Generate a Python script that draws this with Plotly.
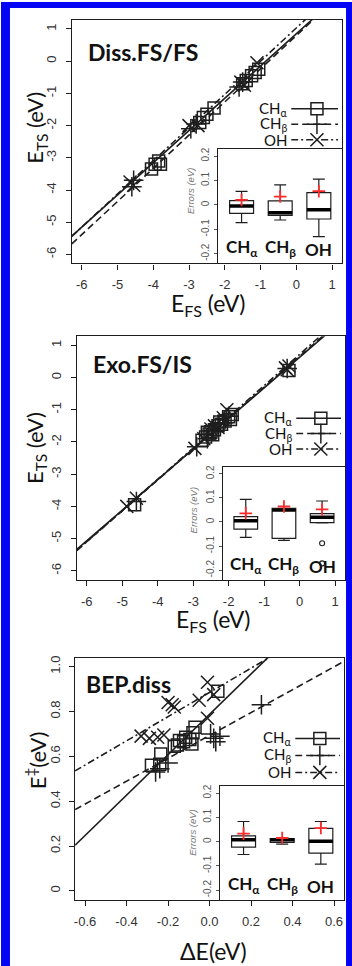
import plotly.graph_objects as go

W, H = 352, 966

# ---------------- data: panel 1, Diss.FS/FS ----------------
diss_cha_x = [-4.05, -3.95, -3.85, -3.8, -2.7, -2.6, -2.5, -2.3, -1.5, -1.4, -1.25, -1.15, -1.05]
diss_cha_y = [-3.35, -3.2, -3.1, -3.2, -1.9, -1.75, -1.65, -1.45, -0.7, -0.6, -0.45, -0.35, -0.25]
diss_chb_x = [-4.6, -4.55, -2.95, -2.8, -1.6, -1.5]
diss_chb_y = [-3.9, -3.7, -2.1, -1.95, -0.8, -0.65]
diss_oh_x = [-4.65, -4.55, -3.0, -2.75, -1.55, -1.45, -1.1]
diss_oh_y = [-3.75, -3.85, -2.0, -2.0, -0.65, -0.75, -0.05]
diss_slope = [1.0, 1.03, 1.03]
diss_icpt = [0.85, 0.795, 1.03]
diss_q1 = [-0.035, -0.043, -0.058]
diss_med = [-0.005, -0.032, -0.02]
diss_q3 = [0.017, 0.016, 0.05]
diss_lo = [-0.073, -0.062, -0.13]
diss_hi = [0.055, 0.082, 0.105]
diss_mean = [0.02, 0.034, 0.056]

# ---------------- data: panel 2, Exo.FS/IS ----------------
exo_cha_x = [-4.65, -2.75, -2.65, -2.6, -2.55, -2.5, -2.45, -2.4, -2.3, -2.25, -2.2, -2.1, -2.0, -1.95, -1.9, -0.3]
exo_cha_y = [-3.95, -1.95, -1.85, -1.7, -1.75, -1.68, -1.78, -1.62, -1.5, -1.38, -1.45, -1.35, -1.22, -1.3, -1.15, 0.22]
exo_chb_x = [-4.6, -2.9, -2.6, -2.45, -2.3, -2.15, -2.0, -0.35]
exo_chb_y = [-3.85, -2.15, -1.9, -1.65, -1.45, -1.4, -1.2, 0.28]
exo_oh_x = [-4.87, -4.6, -2.95, -2.7, -2.5, -2.4, -2.3, -2.15, -2.05, -0.4, -0.3, -0.35]
exo_oh_y = [-4.0, -3.75, -2.2, -1.9, -1.6, -1.5, -1.55, -1.25, -1.0, 0.3, 0.36, 0.24]
exo_slope = [0.95, 0.96, 0.97]
exo_icpt = [0.63, 0.66, 0.72]
exo_q1 = [-0.03, -0.068, -0.003]
exo_med = [0.005, 0.05, 0.02]
exo_q3 = [0.022, 0.057, 0.035]
exo_lo = [-0.064, -0.076, -0.004]
exo_hi = [0.094, 0.065, 0.087]
exo_mean = [0.036, 0.064, 0.052]
exo_out_y = [-0.088, -0.172]   # OH outliers

# ---------------- data: panel 3, BEP.diss ----------------
bep_cha_x = [-0.28, -0.24, -0.235, -0.17, -0.155, -0.145, -0.125, -0.115, -0.095, -0.085, -0.08, -0.07, 0.04]
bep_cha_y = [0.56, 0.565, 0.61, 0.645, 0.65, 0.67, 0.665, 0.685, 0.675, 0.655, 0.705, 0.73, 0.89]
bep_chb_x = [-0.26, -0.24, -0.2, 0.005, 0.02, 0.05, 0.03, 0.25]
bep_chb_y = [0.53, 0.545, 0.57, 0.70, 0.68, 0.69, 0.665, 0.83]
bep_oh_x = [-0.33, -0.29, -0.25, -0.22, -0.2, -0.18, -0.17, -0.05, -0.01, 0.02, -0.01]
bep_oh_y = [0.69, 0.68, 0.685, 0.695, 0.84, 0.83, 0.82, 0.85, 0.93, 0.875, 0.77]
bep_slope = [0.90, 0.51, 0.54]
bep_icpt = [0.787, 0.693, 0.885]
bep_q1 = [-0.023, -0.003, -0.047]
bep_med = [0.008, 0.008, 0.002]
bep_q3 = [0.024, 0.013, 0.055]
bep_lo = [-0.053, -0.01, -0.093]
bep_hi = [0.083, 0.017, 0.083]
bep_mean = [0.033, 0.015, 0.056]

groups = ["CH<sub>α</sub>", "CH<sub>β</sub>", "OH"]
group_pos = [1, 2, 3]
err_ticks = [-0.2, -0.1, 0, 0.1, 0.2]
err_labels = ["-0.2", "-0.1", "0", "0.1", "0.2"]
fs_ticks = [-6, -5, -4, -3, -2, -1, 0, 1]
de_ticks = [-0.6, -0.4, -0.2, 0.0, 0.2, 0.4, 0.6]
de_labels = ["-0.6", "-0.4", "-0.2", "0.0", "0.2", "0.4", "0.6"]
eb_ticks = [0, 0.2, 0.4, 0.6, 0.8, 1.0]
eb_labels = ["0", "0.2", "0.4", "0.6", "0.8", "1.0"]

# ---------------- style ----------------
TFONT = "Lato"
NFONT = "Liberation Sans"
INK = "#1e1e1e"
BLUE = "#0505f5"
symbols = ["square-open", "cross-thin-open", "x-thin-open"]
msizes = [12, 14, 13]
dashes = ["solid", "7px,4px", "7px,3px,2px,3px"]


def fx(x):
    return x / W


def fy(y):
    return 1 - y / H


def ak(kind, i):
    return kind + "axis" + ("" if i == 1 else str(i))


def ref(kind, i):
    return kind + ("" if i == 1 else str(i))


fig = go.Figure()
lay = {}
ann = []

panels = [
    dict(title="Diss.FS/FS", xt="E<sub>FS</sub> (eV)", yt="E<sub>TS</sub> (eV)",
         pts=[(diss_cha_x, diss_cha_y), (diss_chb_x, diss_chb_y), (diss_oh_x, diss_oh_y)],
         slope=diss_slope, icpt=diss_icpt,
         stats=(diss_q1, diss_med, diss_q3, diss_lo, diss_hi, diss_mean), out=None,
         xr=[-6.28, 1.28], yr=[-6.28, 1.28], xtv=fs_ticks, xtt=[str(v) for v in fs_ticks],
         ytv=fs_ticks, ytt=[str(v) for v in fs_ticks],
         box=(71, 342, 18, 262), inset=(218, 147.5), rows=(107, 122.5, 138), leg=(289, 291, 338),
         tpos=(85, 50), xtpos=(208, 303), ytpos=(35, 126), elab=(190, 189)),
    dict(title="Exo.FS/IS", xt="E<sub>FS</sub> (eV)", yt="E<sub>TS</sub> (eV)",
         pts=[(exo_cha_x, exo_cha_y), (exo_chb_x, exo_chb_y), (exo_oh_x, exo_oh_y)],
         slope=exo_slope, icpt=exo_icpt,
         stats=(exo_q1, exo_med, exo_q3, exo_lo, exo_hi, exo_mean), out=exo_out_y,
         xr=[-6.28, 1.28], yr=[-6.28, 1.28], xtv=fs_ticks, xtt=[str(v) for v in fs_ticks],
         ytv=fs_ticks, ytt=[str(v) for v in fs_ticks],
         box=(76, 345, 335, 579), inset=(222.5, 466), rows=(417, 432.5, 448), leg=(294, 296, 341),
         tpos=(90, 363), xtpos=(213, 620), ytpos=(35, 447), elab=(193, 509)),
    dict(title="BEP.diss", xt="ΔE(eV)", yt="E<sup>‡</sup>(eV)",
         pts=[(bep_cha_x, bep_cha_y), (bep_chb_x, bep_chb_y), (bep_oh_x, bep_oh_y)],
         slope=bep_slope, icpt=bep_icpt,
         stats=(bep_q1, bep_med, bep_q3, bep_lo, bep_hi, bep_mean), out=None,
         xr=[-0.648, 0.648], yr=[-0.04, 1.04], xtv=de_ticks, xtt=de_labels,
         ytv=eb_ticks, ytt=eb_labels,
         box=(74.3, 344, 657, 899.7), inset=(220, 786), rows=(738, 755, 772), leg=(293, 295, 340),
         tpos=(83, 683), xtpos=(213, 951), ytpos=(35, 760), elab=(192, 832)),
]

tickfont = dict(family=NFONT, size=13, color="#333")
box_w = 0.62


def label(text, x, y, size, family=TFONT, color="#111", angle=0, xanchor="center"):
    return dict(text=text, x=fx(x), y=fy(y), xref="paper", yref="paper", xanchor=xanchor,
                yanchor="middle", textangle=angle, showarrow=False,
                font=dict(family=family, size=size, color=color))


for p, P in enumerate(panels):
    m, ins, lg = 3 * p + 1, 3 * p + 2, 3 * p + 3
    L, R, T, B = P["box"]
    iL, iT = P["inset"]

    # main axes
    common = dict(showline=True, mirror=True, linecolor=INK, linewidth=1.3, ticks="outside",
                  ticklen=5, tickwidth=1.2, tickcolor=INK, tickfont=tickfont,
                  showgrid=False, zeroline=False, ticklabelstandoff=4)
    lay[ak("x", m)] = dict(common, domain=[fx(L), fx(R)], range=P["xr"], anchor=ref("y", m),
                           tickvals=P["xtv"], ticktext=P["xtt"])
    lay[ak("y", m)] = dict(common, domain=[fy(B), fy(T)], range=P["yr"], anchor=ref("x", m),
                           tickvals=P["ytv"], ticktext=P["ytt"], tickangle=-90)

    # fitted lines and points
    for g in range(3):
        lx = P["xr"]
        fig.add_trace(go.Scatter(x=lx, y=[P["slope"][g] * v + P["icpt"][g] for v in lx], mode="lines",
                                 line=dict(color=INK, width=1.6, dash=dashes[g]),
                                 xaxis=ref("x", m), yaxis=ref("y", m), showlegend=False, hoverinfo="skip"))
    for g in range(3):
        xs, ys = P["pts"][g]
        fig.add_trace(go.Scatter(x=xs, y=ys, mode="markers",
                                 marker=dict(symbol=symbols[g], size=msizes[g], color=INK,
                                             line=dict(color=INK, width=1.5)),
                                 xaxis=ref("x", m), yaxis=ref("y", m), showlegend=False))

    # inset boxplot
    q1, med, q3, lo, hi, mean = P["stats"]
    lay[ak("x", ins)] = dict(domain=[fx(iL), fx(R)], range=[0.4, 3.6], anchor=ref("y", ins),
                             showline=True, mirror=True, linecolor=INK, linewidth=1.3,
                             showticklabels=False, ticks="", showgrid=False, zeroline=False)
    lay[ak("y", ins)] = dict(domain=[fy(B), fy(iT)], range=[-0.24, 0.228], anchor=ref("x", ins),
                             showline=True, mirror=True, linecolor=INK, linewidth=1.3,
                             ticks="outside", ticklen=3, tickwidth=1, tickcolor="#555",
                             tickvals=err_ticks, ticktext=err_labels, tickangle=-90,
                             tickfont=dict(family=NFONT, size=10, color="#555"),
                             ticklabelstandoff=1, showgrid=False, zeroline=False)
    fig.add_trace(go.Box(x=group_pos, q1=q1, median=med, q3=q3, lowerfence=lo, upperfence=hi,
                         width=box_w, whiskerwidth=0.5, boxpoints=False, fillcolor="white",
                         line=dict(color=INK, width=1.2), xaxis=ref("x", ins), yaxis=ref("y", ins),
                         showlegend=False, hoverinfo="skip"))
    for g in range(3):
        fig.add_trace(go.Scatter(x=[group_pos[g] - box_w / 2, group_pos[g] + box_w / 2], y=[med[g], med[g]],
                                 mode="lines", line=dict(color="black", width=3.5),
                                 xaxis=ref("x", ins), yaxis=ref("y", ins), showlegend=False, hoverinfo="skip"))
    fig.add_trace(go.Scatter(x=group_pos, y=mean, mode="markers",
                             marker=dict(symbol="cross-thin-open", size=9, color="#ff2a2a",
                                         line=dict(color="#ff2a2a", width=1.8)),
                             xaxis=ref("x", ins), yaxis=ref("y", ins), showlegend=False))
    if P["out"]:
        fig.add_trace(go.Scatter(x=[group_pos[2]] * len(P["out"]), y=P["out"], mode="markers",
                                 marker=dict(symbol="circle-open", size=5, color=INK, line=dict(width=1.1)),
                                 xaxis=ref("x", ins), yaxis=ref("y", ins), showlegend=False))
    for g in range(3):
        ann.append(dict(text="<b>" + groups[g] + "</b>", x=group_pos[g], y=-0.24, xref=ref("x", ins),
                        yref=ref("y", ins), xanchor="center", yanchor="bottom", yshift=1, showarrow=False,
                        font=dict(family=TFONT, size=17, color="#111")))
    ex, ey = P["elab"]
    ann.append(label("<i>Errors (eV)</i>", ex, ey, 9.5, family=NFONT, color="#777", angle=-90))

    # custom legend: label on the left, line and symbol on the right
    r0, r1, r2 = P["rows"]
    tr, l0, l1 = P["leg"]
    sp = (r2 - r0) / 2
    lay[ak("x", lg)] = dict(domain=[fx(l0), fx(l1)], range=[0, 1], visible=False, anchor=ref("y", lg))
    lay[ak("y", lg)] = dict(domain=[fy(r2 + sp / 2), fy(r0 - sp / 2)], range=[-0.5, 2.5], visible=False,
                            anchor=ref("x", lg))
    for g in range(3):
        row = 2 - g
        fig.add_trace(go.Scatter(x=[0, 1], y=[row, row], mode="lines",
                                 line=dict(color=INK, width=1.5, dash=dashes[g]),
                                 xaxis=ref("x", lg), yaxis=ref("y", lg), showlegend=False, hoverinfo="skip"))
        fig.add_trace(go.Scatter(x=[0.55], y=[row], mode="markers",
                                 marker=dict(symbol=symbols[g], size=msizes[g], color=INK,
                                             line=dict(color=INK, width=1.5)),
                                 xaxis=ref("x", lg), yaxis=ref("y", lg), showlegend=False, hoverinfo="skip"))
        ann.append(dict(text=groups[g], x=fx(tr), y=row, xref="paper", yref=ref("y", lg), xanchor="right",
                        yanchor="middle", showarrow=False, font=dict(family=TFONT, size=15, color="#111")))

    # titles
    tx, ty = P["tpos"]
    ann.append(label("<b>" + P["title"] + "</b>", tx, ty, 23, xanchor="left"))
    xx, xy = P["xtpos"]
    ann.append(label(P["xt"], xx, xy, 23))
    yx, yy = P["ytpos"]
    ann.append(label(P["yt"], yx, yy, 22, angle=-90))

# blue frame
shapes = [
    dict(type="rect", xref="paper", yref="paper", x0=0, x1=fx(9), y0=0, y1=1, fillcolor=BLUE, line_width=0),
    dict(type="rect", xref="paper", yref="paper", x0=0, x1=1, y0=fy(6), y1=1, fillcolor=BLUE, line_width=0),
    dict(type="rect", xref="paper", yref="paper", x0=fx(346), x1=1, y0=0, y1=1, fillcolor=BLUE, line_width=0),
]

fig.update_layout(width=W, height=H, margin=dict(l=0, r=0, t=0, b=0), paper_bgcolor="white",
                  plot_bgcolor="rgba(0,0,0,0)", showlegend=False, boxmode="overlay",
                  annotations=ann, shapes=shapes, **lay)
fig.write_html("out.html", config={"displayModeBar": False},
               post_script="document.body.style.margin='0';document.body.style.overflow='hidden';")
